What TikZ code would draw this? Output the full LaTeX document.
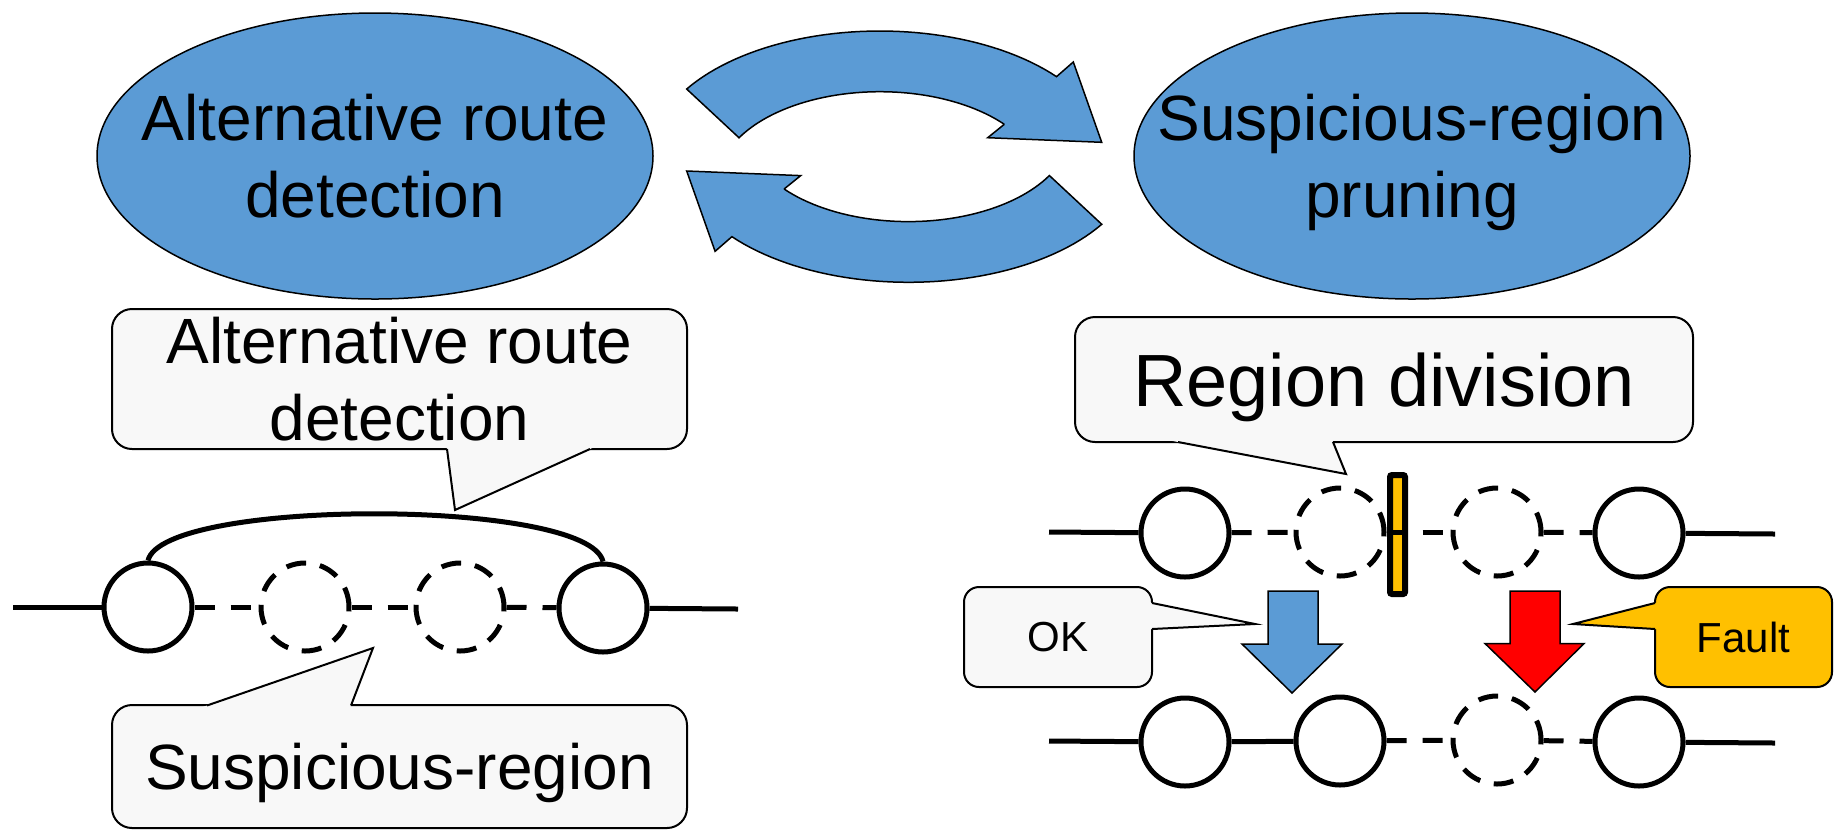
\documentclass[tikz,border=0pt]{standalone}
\usepackage{fontspec}
\setmainfont{Liberation Sans}
\usetikzlibrary{calc,shapes.geometric}

\definecolor{ppblue}{RGB}{91,155,213}
\definecolor{ppgold}{RGB}{255,192,0}
\definecolor{ppred}{RGB}{255,0,0}
\definecolor{notefill}{RGB}{248,248,248}

\tikzset{
  stagenode/.style={ellipse, draw=black, line width=0.75pt, fill=ppblue,
    minimum width=278pt, minimum height=143pt, inner sep=0pt},
  stagetext/.style={align=center, font=\fontsize{32}{38.5}\selectfont,
    text depth=0pt, inner sep=0pt},
  notebox/.style={rectangle, rounded corners=10pt, draw=black, line width=1pt,
    fill=notefill, inner sep=0pt, align=center, text depth=0pt},
  notebeak/.style={draw=black, line width=1pt},
  hopnode/.style={circle, draw=black, line width=2.5pt, minimum size=44pt,
    inner sep=0pt},
  hopdash/.style={hopnode, dash pattern=on 10pt off 7pt},
  wireline/.style={line width=2.5pt},
  wiredash/.style={wireline, dash pattern=on 10pt off 8pt},
  cyclearrow/.style={draw=black, line width=0.75pt, fill=ppblue},
  blockarrow/.style={draw=black, line width=0.75pt},
  cutmark/.style={rectangle, draw=black, line width=3pt, fill=ppgold,
    minimum width=7.5pt, minimum height=59.5pt, inner sep=0pt,
    rounded corners=1pt},
}

% pointer of a speech bubble: fill colour, base point, tip, base point
\newcommand\beak[4]{%
  \fill[#1] ($(#2)!-0.08!(#3)$) -- (#3) -- ($(#4)!-0.08!(#3)$) -- cycle;
  \draw[notebeak] (#2) -- (#3) -- (#4);}

% one half of the circular exchange arrow
\newcommand\cycleband{%
  \path[cyclearrow]
    plot[domain=212.5:320.5, samples=48] ({879.8+229*cos(\x)}, {156.4+125.4*sin(\x)})
    -- (1073.3,62) -- (1101.7,142.3) -- (987.7,137.7) -- (1004.3,124.3)
    -- plot[domain=320:209.7, samples=48] ({880+162.3*cos(\x)}, {183+91.3*sin(\x)})
    -- cycle;}

\begin{document}
\begin{tikzpicture}[x=0.5pt, y=-0.5pt]
\useasboundingbox (0,0) rectangle (1835,837);

% circular arrows between the two stages
\cycleband
\begin{scope}[rotate around={180:(894.2,156.65)}]
  \cycleband
\end{scope}

% the two stages
\node[stagenode] (ard) at (375,156) {};
\node[stagetext] at (ard.center) {Alternative route\\detection};
\node[stagenode] (srp) at (1412,156) {};
\node[stagetext] at (srp.center) {Suspicious-region\\pruning};

% ---------------- left: alternative route ----------------
\node[notebox, minimum width=287.5pt, minimum height=70pt,
      font=\fontsize{32}{38.5}\selectfont] (nA) at (399.5,379)
      {Alternative route\\detection};
\beak{notefill}{447,449}{455,510}{590,449}

\node[notebox, minimum width=287.5pt, minimum height=61.5pt,
      font=\fontsize{32}{38.5}\selectfont] (nB) at (399.5,766.5)
      {Suspicious-region};
\beak{notefill}{207,705.5}{373,648}{351,705.5}

\node[hopnode] (h1) at (148,607) {};
\node[hopdash] (h2) at (305,607) {};
\node[hopdash] (h3) at (460,607) {};
\node[hopnode] (h4) at (603,608) {};
\coordinate (e1) at (13,607);
\coordinate (e2) at (738,609);

\draw[wireline] (e1) -- (h1);
\draw[wiredash] (h1) -- (h2);
\draw[wiredash] (h2) -- (h3);
\draw[wiredash] (h3) -- (h4);
\draw[wireline] (h4) -- (e2);
\draw[wireline] (h1.north) .. controls (163,498) and (588,498) .. (h4.north);

% ---------------- right: region division ----------------
\node[notebox, minimum width=309pt, minimum height=62.5pt,
      font=\fontsize{37}{44}\selectfont] (nC) at (1384,379.5)
      {Region division};
\beak{notefill}{1178,442}{1346,474}{1333,442}

\node[hopnode] (h5) at (1185,533) {};
\node[hopdash] (h6) at (1340,532) {};
\node[hopdash] (h7) at (1497,532) {};
\node[hopnode] (h8) at (1639,533) {};
\coordinate (e3) at (1049,532);
\coordinate (e4) at (1775,534);

\node[cutmark] (cut) at (1397.5,534.5) {};

\draw[wireline] (e3) -- (h5);
\draw[wiredash] (h5) -- (h6);
\draw[wiredash] (h6) -- (h7);
\draw[wiredash] (h7) -- (h8);
\draw[wireline] (h8) -- (e4);

% outcome arrows
\path[blockarrow, fill=ppblue] (1268,591) -- (1318,591) -- (1318,644)
  -- (1342,644) -- (1292,693) -- (1242,644) -- (1268,644) -- cycle;
\path[blockarrow, fill=ppred] (1510,591) -- (1560,591) -- (1560,643.5)
  -- (1584,643.5) -- (1535,692) -- (1485,643.5) -- (1510,643.5) -- cycle;

\node[notebox, rounded corners=7.5pt, minimum width=94pt, minimum height=50pt,
      font=\fontsize{21}{25}\selectfont] (nOK) at (1058,637) {OK};
\beak{notefill}{1152,603}{1255,624}{1152,629}

\node[notebox, rounded corners=7.5pt, fill=ppgold, minimum width=88.5pt,
      minimum height=50pt, font=\fontsize{21}{25}\selectfont] (nF) at (1743.5,637) {Fault};
\beak{ppgold}{1655,603}{1573,624}{1655,629}

% row after pruning
\node[hopnode] (h9) at (1185,742) {};
\node[hopnode] (h10) at (1340,741) {};
\node[hopdash] (h11) at (1497,740) {};
\node[hopnode] (h12) at (1639,742) {};
\coordinate (e5) at (1049,741);
\coordinate (e6) at (1775,743);

\draw[wireline] (e5) -- (h9);
\draw[wireline] (h9) -- (h10);
\draw[wiredash] (h10) -- (h11);
\draw[wiredash] (h11) -- (h12);
\draw[wireline] (h12) -- (e6);
\end{tikzpicture}
\end{document}
